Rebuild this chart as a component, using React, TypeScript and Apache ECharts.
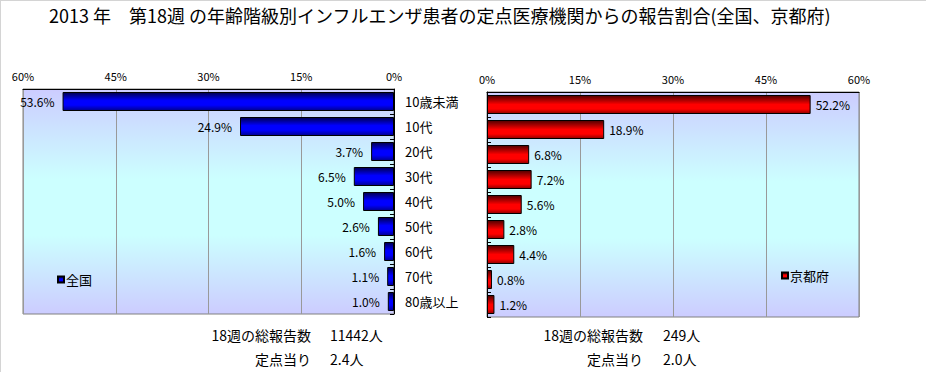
import React, { useEffect, useRef } from "react";
import * as echarts from "echarts";

const categories = ["10歳未満", "10代", "20代", "30代", "40代", "50代", "60代", "70代", "80歳以上"];
const nationalValues = [53.6, 24.9, 3.7, 6.5, 5.0, 2.6, 1.6, 1.1, 1.0];
const kyotoValues = [52.2, 18.9, 6.8, 7.2, 5.6, 2.8, 4.4, 0.8, 1.2];
const axisMax = 60;
const axisInterval = 15;
const titleText = "2013 年　第18週 の年齢階級別インフルエンザ患者の定点医療機関からの報告割合(全国、京都府)";
const noteLabels = ["18週の総報告数", "定点当り"];
const nationalNoteValues = ["11442人", "2.4人"];
const kyotoNoteValues = ["249人", "2.0人"];

const FONT = "'Noto Sans CJK JP', 'Noto Sans', sans-serif";

const plotBg = {
  type: "linear", x: 0, y: 0, x2: 0, y2: 1,
  colorStops: [
    { offset: 0, color: "#ccccff" },
    { offset: 0.4, color: "#ccffff" },
    { offset: 0.65, color: "#ccffff" },
    { offset: 1, color: "#ccccff" },
  ],
};
const blueGrad = {
  type: "linear", x: 0, y: 0, x2: 0, y2: 1,
  colorStops: [
    { offset: 0, color: "#000050" },
    { offset: 0.45, color: "#0000ff" },
    { offset: 0.7, color: "#0000ff" },
    { offset: 1, color: "#000090" },
  ],
};
const redGrad = {
  type: "linear", x: 0, y: 0, x2: 0, y2: 1,
  colorStops: [
    { offset: 0, color: "#500000" },
    { offset: 0.5, color: "#ff0000" },
    { offset: 0.75, color: "#ff0000" },
    { offset: 1, color: "#900000" },
  ],
};

export default function App() {
  const ref = useRef<HTMLDivElement>(null);
  useEffect(() => {
    const chart = echarts.init(ref.current!, undefined, { renderer: "svg" });
    const pct = (p: any) => Number(p.value).toFixed(1) + "%";
    const xCommon = {
      type: "value",
      min: 0,
      max: axisMax,
      interval: axisInterval,
      position: "top",
      axisLine: { show: true, lineStyle: { color: "#000", width: 1 } },
      axisTick: { show: false },
      axisLabel: { formatter: "{value}%", fontSize: 11, color: "#000", fontFamily: FONT, margin: 8 },
      splitLine: { show: true, lineStyle: { color: "#999999", width: 1 } },
    };
    const note = (text: string, x: number, y: number, align: string) => ({
      type: "text",
      x,
      y,
      style: { text, fontSize: 14, fill: "#000", fontFamily: FONT, align, verticalAlign: "middle" },
    });
    chart.setOption({
      animation: false,
      backgroundColor: "#ffffff",
      title: {
        text: titleText,
        left: 44,
        top: 1,
        textStyle: { fontSize: 18, fontWeight: "normal", color: "#000", fontFamily: FONT },
      },
      legend: [
        {
          data: ["全国"], left: 52, top: 268, icon: "rect", itemWidth: 6, itemHeight: 6, itemGap: 2,
          textStyle: { fontSize: 13, color: "#000", fontFamily: FONT, padding: [0, 0, 0, -3] },
        },
        {
          data: ["京都府"], left: 776, top: 264, icon: "rect", itemWidth: 6, itemHeight: 6, itemGap: 2,
          textStyle: { fontSize: 13, color: "#000", fontFamily: FONT, padding: [0, 0, 0, -3] },
        },
      ],
      grid: [
        { left: 23, top: 89, width: 371, height: 225, show: true, backgroundColor: plotBg, borderColor: "#808080", borderWidth: 1 },
        { left: 487, top: 92, width: 372, height: 225, show: true, backgroundColor: plotBg, borderColor: "#808080", borderWidth: 1 },
      ],
      xAxis: [
        { ...xCommon, gridIndex: 0, inverse: true },
        { ...xCommon, gridIndex: 1 },
      ],
      yAxis: [
        {
          type: "category", gridIndex: 0, data: categories, inverse: true, position: "right",
          axisLine: { show: true, lineStyle: { color: "#000" } },
          axisTick: { show: true, inside: true, length: 4, lineStyle: { color: "#000" } },
          axisLabel: { fontSize: 13, color: "#000", fontFamily: FONT, margin: 11 },
        },
        {
          type: "category", gridIndex: 1, data: categories, inverse: true, position: "left",
          axisLine: { show: true, lineStyle: { color: "#000" } },
          axisTick: { show: true, inside: true, length: 4, lineStyle: { color: "#000" } },
          axisLabel: { show: false },
        },
      ],
      series: [
        {
          name: "全国", type: "bar", xAxisIndex: 0, yAxisIndex: 0, data: nationalValues, barWidth: 19,
          itemStyle: { color: blueGrad, borderColor: "#000", borderWidth: 1 },
          label: { show: true, position: "left", distance: 8, formatter: pct, fontSize: 12, color: "#000", fontFamily: FONT },
        },
        {
          name: "京都府", type: "bar", xAxisIndex: 1, yAxisIndex: 1, data: kyotoValues, barWidth: 19,
          itemStyle: { color: redGrad, borderColor: "#000", borderWidth: 1 },
          label: { show: true, position: "right", distance: 5, formatter: pct, fontSize: 12, color: "#000", fontFamily: FONT },
        },
      ],
      graphic: [
        { type: "line", shape: { x1: 0.5, y1: 0, x2: 0.5, y2: 372 }, style: { stroke: "#d4d4d4", lineWidth: 1 } },
        { type: "line", shape: { x1: 0, y1: 0.5, x2: 926, y2: 0.5 }, style: { stroke: "#d4d4d4", lineWidth: 1 } },
        note(noteLabels[0], 311, 335, "right"),
        note(nationalNoteValues[0], 330, 335, "left"),
        note(noteLabels[1], 311, 359, "right"),
        note(nationalNoteValues[1], 330, 359, "left"),
        note(noteLabels[0], 643, 335, "right"),
        note(kyotoNoteValues[0], 663, 335, "left"),
        note(noteLabels[1], 643, 359, "right"),
        note(kyotoNoteValues[1], 663, 359, "left"),
      ],
    });
    return () => chart.dispose();
  }, []);
  return <div ref={ref} style={{ width: 926, height: 372, position: "absolute", left: 0, top: 0 }} />;
}
